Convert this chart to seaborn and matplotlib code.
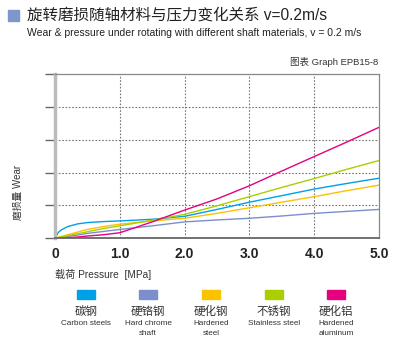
import numpy as np
import pandas as pd
import matplotlib
matplotlib.use("Agg")
import matplotlib.pyplot as plt
import seaborn as sns
from matplotlib.patches import Rectangle

# pressure [MPa] sample points
pressure = [0, 0.05, 0.1, 0.2, 0.35, 0.5, 0.75, 1.0, 1.5, 2.0, 2.5, 3.0, 3.5, 4.0, 4.5, 5.0]

# wear (grid units) per shaft material
carbon_steel = [0, 0.18, 0.26, 0.36, 0.44, 0.48, 0.51, 0.53, 0.58, 0.67, 0.88, 1.10, 1.30, 1.50, 1.67, 1.83]
hard_chrome = [0, 0.015, 0.03, 0.06, 0.10, 0.15, 0.21, 0.27, 0.38, 0.50, 0.56, 0.61, 0.68, 0.76, 0.82, 0.88]
hardened_steel = [0, 0.03, 0.06, 0.11, 0.19, 0.27, 0.36, 0.43, 0.53, 0.61, 0.76, 0.93, 1.10, 1.27, 1.45, 1.62]
stainless_steel = [0, 0.02, 0.04, 0.08, 0.14, 0.20, 0.30, 0.38, 0.55, 0.73, 0.99, 1.27, 1.55, 1.82, 2.10, 2.37]
hardened_alu = [0, 0.005, 0.01, 0.02, 0.04, 0.07, 0.11, 0.17, 0.50, 0.86, 1.20, 1.60, 2.05, 2.49, 2.93, 3.38]

materials = ["碳钢", "硬铬钢", "硬化钢", "不锈钢", "硬化铝"]
materials_en = ["Carbon steels", "Hard chrome\nshaft", "Hardened\nsteel", "Stainless steel", "Hardened\naluminum"]
colors = ["#00a0e9", "#7a8fcc", "#fbc200", "#a9cf00", "#e4007f"]
xticks = [0, 1, 2, 3, 4, 5]
xtick_labels = ["0", "1.0", "2.0", "3.0", "4.0", "5.0"]

series = [carbon_steel, hard_chrome, hardened_steel, stainless_steel, hardened_alu]
df = pd.concat(
    [pd.DataFrame({"pressure": pressure, "wear": s, "material": m}) for s, m in zip(series, materials)],
    ignore_index=True,
)

sns.set_style("white")
plt.rcParams["font.family"] = ["Liberation Sans", "Noto Sans CJK SC", "DejaVu Sans"]

fig = plt.figure(figsize=(4, 3.6), dpi=100)
ax = fig.add_axes([0.1375, 0.338, 0.81, 0.456])

sns.lineplot(data=df, x="pressure", y="wear", hue="material", hue_order=materials,
             palette=colors, linewidth=1.0, legend=False, ax=ax)

ax.set_xlim(0, 5)
ax.set_ylim(0, 5)
ax.set_xticks(xticks)
ax.set_xticklabels(xtick_labels, fontsize=10, fontweight="bold", color="#222222")
ax.set_yticks([0, 1, 2, 3, 4, 5])
ax.set_yticklabels([])
ax.tick_params(axis="x", length=0, pad=6)
ax.tick_params(axis="y", left=True, length=7, width=1, color="#666666", direction="out")
ax.set_xlabel("")
ax.set_ylabel("")

# dotted grid
for v in [1, 2, 3, 4]:
    ax.axhline(v, color="#777777", lw=0.8, ls=(0, (1.5, 1.5)), zorder=0)
    ax.axvline(v, color="#777777", lw=0.8, ls=(0, (1.5, 1.5)), zorder=0)

ax.spines["left"].set_color("#bbbbbb")
ax.spines["left"].set_linewidth(2.5)
ax.spines["bottom"].set_color("#666666")
ax.spines["bottom"].set_linewidth(1.3)
ax.spines["top"].set_color("#888888")
ax.spines["top"].set_linewidth(0.9)
ax.spines["right"].set_color("#888888")
ax.spines["right"].set_linewidth(0.9)

# titles
fig.add_artist(Rectangle((8 / 400, 1 - 21 / 360), 11 / 400, 11 / 360,
                         transform=fig.transFigure, color="#7f96cd"))
fig.text(27 / 400, 1 - 16 / 360, "旋转磨损随轴材料与压力变化关系 v=0.2m/s",
         fontsize=11.2, va="center", ha="left", color="#222222")
fig.text(27 / 400, 1 - 33 / 360,
         "Wear & pressure under rotating with different shaft materials, v = 0.2 m/s",
         fontsize=7.5, va="center", ha="left", color="#222222")
fig.text(378 / 400, 1 - 62 / 360, "图表 Graph EPB15-8",
         fontsize=6.8, va="center", ha="right", color="#333333")

fig.text(18 / 400, 1 - 192 / 360, "磨损量 Wear", fontsize=7, rotation=90,
         va="center", ha="center", color="#333333")
fig.text(55 / 400, 1 - 274 / 360, "载荷 Pressure  [MPa]", fontsize=7.3,
         va="center", ha="left", color="#333333")

# legend
centers = [86, 148, 211, 274, 336]
for cx, col, zh, en in zip(centers, colors, materials, materials_en):
    fig.add_artist(Rectangle(((cx - 9) / 400, 1 - 299 / 360), 18 / 400, 9 / 360,
                             transform=fig.transFigure, color=col))
    fig.text(cx / 400, 1 - 312 / 360, zh, fontsize=8.3, ha="center", va="center", color="#333333")
    fig.text(cx / 400, 1 - 320 / 360, en, fontsize=5.9, ha="center", va="top",
             color="#333333", linespacing=1.6)

fig.savefig("out.png", dpi=100)
